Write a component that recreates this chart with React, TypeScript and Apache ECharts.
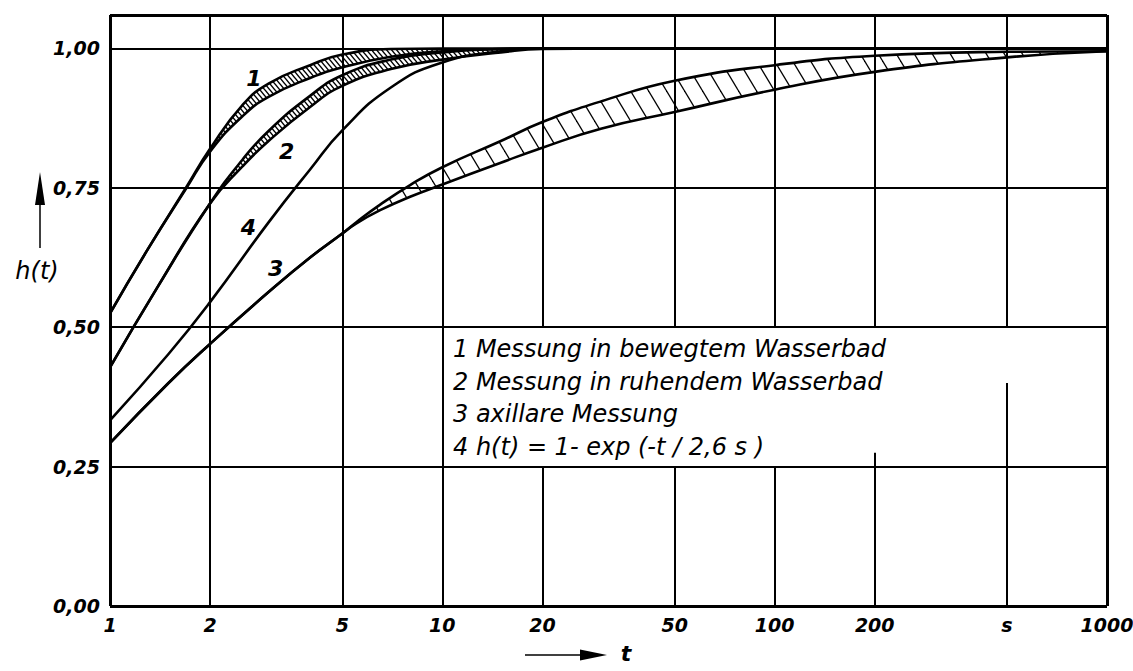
import React, { useEffect, useRef } from 'react';
import * as echarts from 'echarts';

// ---- axis ticks ----
const xTicks = [1, 2, 5, 10, 20, 50, 100, 200, 500, 1000];
const xTickLabels = ['1', '2', '5', '10', '20', '50', '100', '200', 's', '1000'];
// top of the lower segment of each vertical grid line (null = full height); the legend box interrupts some
const xGridLowerTop: (number | null)[] = [null, null, null, null, 0.25, 0.25, 0.25, 0.275, 0.4, null];
const yTicks = [0, 0.25, 0.5, 0.75, 1.0];
const yTickLabels = ['0,00', '0,25', '0,50', '0,75', '1,00'];
const yMax = 1.06;

// ---- curve 1 (band): Messung in bewegtem Wasserbad ----
const c1T = [1, 1.3, 1.7, 2, 2.5, 3, 4, 5, 7, 10, 15, 20, 50, 1000];
const c1Lower = [0.525, 0.64, 0.75, 0.815, 0.878, 0.913, 0.947, 0.966, 0.985, 0.995, 0.999, 1, 1, 1];
const c1Upper = [0.525, 0.64, 0.752, 0.82, 0.898, 0.937, 0.97, 0.989, 0.999, 1, 1, 1, 1, 1];

// ---- curve 2 (band): Messung in ruhendem Wasserbad ----
const c2T = [1, 1.4, 2, 2.5, 3, 4, 5, 7, 10, 15, 20, 50, 1000];
const c2Lower = [0.428, 0.575, 0.722, 0.788, 0.834, 0.895, 0.933, 0.963, 0.98, 0.993, 0.999, 1, 1];
const c2Upper = [0.428, 0.575, 0.722, 0.8, 0.852, 0.915, 0.952, 0.98, 0.993, 0.999, 1, 1, 1];

// ---- curve 3 (band): axillare Messung ----
const c3T = [1, 1.5, 2, 3, 4, 5, 5.5, 6.5, 8, 10, 15, 20, 30, 50, 100, 200, 500, 1000];
const c3Lower = [0.292, 0.4, 0.47, 0.563, 0.625, 0.668, 0.686, 0.71, 0.734, 0.756, 0.795, 0.822, 0.856, 0.886, 0.926, 0.958, 0.984, 0.995];
const c3Upper = [0.292, 0.4, 0.47, 0.563, 0.625, 0.668, 0.688, 0.72, 0.755, 0.787, 0.834, 0.868, 0.905, 0.942, 0.97, 0.987, 0.994, 0.995];

// ---- curve 4: h(t) = 1 - exp(-t/2,6 s) ----
const c4T = [1, 1.5, 2, 3, 4, 5, 7, 10, 15, 20, 1000];
const c4V = [0.333, 0.452, 0.545, 0.688, 0.783, 0.853, 0.93, 0.975, 0.995, 1, 1];

// ---- curve number labels ----
const curveLabelText = ['1', '2', '3', '4'];
const curveLabelT = [2.71, 3.4, 3.15, 2.61];
const curveLabelV = [0.946, 0.815, 0.606, 0.679];

// ---- legend text ----
const legendLines = [
  '1 Messung in bewegtem Wasserbad',
  '2 Messung in ruhendem Wasserbad',
  '3 axillare Messung',
  '4 h(t) = 1- exp (-t / 2,6 s )',
];

const FONT = "'DejaVu Sans', sans-serif";
const SMOOTH = 0.5;

function makeHatch(w: number, h: number, lw: number) {
  const c = document.createElement('canvas');
  c.width = w;
  c.height = h;
  const ctx = c.getContext('2d')!;
  ctx.fillStyle = '#fff';
  ctx.fillRect(0, 0, w, h);
  ctx.strokeStyle = '#000';
  ctx.lineWidth = lw;
  for (const dx of [-w, 0, w]) {
    for (const dy of [-h, 0, h]) {
      ctx.beginPath();
      ctx.moveTo(dx, dy);
      ctx.lineTo(dx + w, dy + h);
      ctx.stroke();
    }
  }
  return c;
}

export default function App() {
  const ref = useRef<HTMLDivElement>(null);
  useEffect(() => {
    if (!ref.current) return;
    const chart = echarts.init(ref.current, undefined, { renderer: 'svg' });

    const fineHatch = makeHatch(5, 6, 1.4);
    const wideHatch = makeHatch(18, 30, 1.3);

    const pair = (ts: number[], vs: number[]) => ts.map((t, i) => [t, vs[i]]);

    const tickLabelStyle = {
      color: '#000',
      fontSize: 19,
      fontWeight: 'bold' as const,
      fontStyle: 'italic' as const,
      fontFamily: FONT,
    };

    // grid lines and frame, drawn above the band fills
    const mlData: any[] = [];
    xTicks.forEach((t, i) => {
      const lbl = { show: true, position: 'start', formatter: xTickLabels[i], distance: 9, ...tickLabelStyle };
      const top = xGridLowerTop[i];
      const frame = i === 0 || i === xTicks.length - 1;
      const ls = { width: frame ? 3 : 2 };
      if (top == null) {
        mlData.push({ xAxis: t, label: lbl, lineStyle: ls });
      } else {
        mlData.push([{ coord: [t, 0], label: lbl, lineStyle: ls }, { coord: [t, top] }]);
        mlData.push([{ coord: [t, 0.5], label: { show: false }, lineStyle: ls }, { coord: [t, yMax] }]);
      }
    });
    yTicks.forEach((v, i) => {
      mlData.push({ yAxis: v, label: { show: false }, lineStyle: { width: i === 0 ? 3 : 2 } });
    });
    mlData.push({ yAxis: yMax, label: { show: false }, lineStyle: { width: 3 } });

    const edge = (name: string, ts: number[], vs: number[]) => ({
      type: 'line',
      name,
      data: pair(ts, vs),
      symbol: 'none',
      smooth: SMOOTH,
      lineStyle: { color: '#000', width: 2.6 },
      z: 10,
      silent: true,
    });

    // fill between two edges: hatch above the lower edge, then white above the upper edge
    const fill = (id: string, ts: number[], lo: number[], hi: number[], hatch: HTMLCanvasElement, z: number) => [
      {
        type: 'line',
        name: id + '-hatch',
        data: pair(ts, lo),
        symbol: 'none',
        smooth: SMOOTH,
        lineStyle: { width: 0, opacity: 0 },
        areaStyle: { color: { image: hatch, repeat: 'repeat' } as any, opacity: 1, origin: 'end' },
        z,
        silent: true,
      },
      {
        type: 'line',
        name: id + '-mask',
        data: pair(ts, hi),
        symbol: 'none',
        smooth: SMOOTH,
        lineStyle: { width: 0, opacity: 0 },
        areaStyle: { color: '#fff', opacity: 1, origin: 'end' },
        z: z + 1,
        silent: true,
      },
    ];

    const option: any = {
      animation: false,
      backgroundColor: '#fff',
      grid: { left: 110, right: 26, top: 15, bottom: 65 },
      xAxis: {
        type: 'log',
        logBase: 10,
        min: 1,
        max: 1000,
        axisLine: { show: false },
        axisTick: { show: false },
        axisLabel: { show: false },
        splitLine: { show: false },
      },
      yAxis: {
        type: 'value',
        min: 0,
        max: yMax,
        interval: 0.25,
        axisLine: { show: false },
        axisTick: { show: false },
        axisLabel: {
          ...tickLabelStyle,
          margin: 10,
          formatter: (v: number) => {
            const i = yTicks.findIndex((t) => Math.abs(t - v) < 1e-6);
            return i >= 0 ? yTickLabels[i] : '';
          },
        },
        splitLine: { show: false },
      },
      series: [
        ...fill('b3', c3T, c3Lower, c3Upper, wideHatch, 1),
        ...fill('b2', c2T, c2Lower, c2Upper, fineHatch, 3),
        ...fill('b1', c1T, c1Lower, c1Upper, fineHatch, 5),
        edge('curve1-lower', c1T, c1Lower),
        edge('curve1-upper', c1T, c1Upper),
        edge('curve2-lower', c2T, c2Lower),
        edge('curve2-upper', c2T, c2Upper),
        edge('curve3-lower', c3T, c3Lower),
        edge('curve3-upper', c3T, c3Upper),
        edge('curve4', c4T, c4V),
        {
          type: 'line',
          name: 'grid',
          data: [[1, 0]],
          symbol: 'none',
          lineStyle: { width: 0 },
          silent: true,
          z: 12,
          markLine: {
            z: 12,
            silent: true,
            symbol: ['none', 'none'],
            lineStyle: { color: '#000', width: 2, type: 'solid' },
            emphasis: { disabled: true },
            data: mlData,
          },
        },
        {
          type: 'scatter',
          name: 'labels',
          symbolSize: 0,
          silent: true,
          z: 13,
          itemStyle: { color: '#000', opacity: 1 },
          data: curveLabelText.map((n, i) => ({ name: n, value: [curveLabelT[i], curveLabelV[i]] })),
          label: {
            show: true,
            position: 'inside',
            formatter: '{b}',
            color: '#000',
            opacity: 1,
            textBorderWidth: 0,
            fontSize: 22,
            fontWeight: 'bold',
            fontStyle: 'italic',
            fontFamily: FONT,
          },
        },
      ],
      graphic: [
        ...legendLines.map((txt, i) => ({
          type: 'text',
          x: 453,
          y: 349 + i * 32.5,
          z: 20,
          silent: true,
          style: {
            text: txt,
            fill: '#000',
            fontSize: 24,
            fontStyle: 'italic',
            fontFamily: FONT,
            align: 'left',
            verticalAlign: 'middle',
          },
        })),
        { type: 'line', z: 20, shape: { x1: 40, y1: 248, x2: 40, y2: 200 }, style: { stroke: '#000', lineWidth: 1.5 }, silent: true },
        { type: 'polygon', z: 20, shape: { points: [[40, 172], [35, 205], [45, 205]] }, style: { fill: '#000' }, silent: true },
        {
          type: 'text',
          x: 37,
          y: 271,
          z: 20,
          silent: true,
          style: { text: 'h(t)', fill: '#000', fontSize: 24, fontStyle: 'italic', fontFamily: FONT, align: 'center', verticalAlign: 'middle' },
        },
        { type: 'line', z: 20, shape: { x1: 525, y1: 655, x2: 584, y2: 655 }, style: { stroke: '#000', lineWidth: 1.5 }, silent: true },
        { type: 'polygon', z: 20, shape: { points: [[607, 655], [580, 649.5], [580, 660.5]] }, style: { fill: '#000' }, silent: true },
        {
          type: 'text',
          x: 626,
          y: 653,
          z: 20,
          silent: true,
          style: { text: 't', fill: '#000', fontSize: 22, fontWeight: 'bold', fontStyle: 'italic', fontFamily: FONT, align: 'center', verticalAlign: 'middle' },
        },
      ],
    };

    chart.setOption(option);
    return () => chart.dispose();
  }, []);

  return <div ref={ref} style={{ position: 'fixed', left: 0, top: 0, width: 1133, height: 671, background: '#fff' }} />;
}
